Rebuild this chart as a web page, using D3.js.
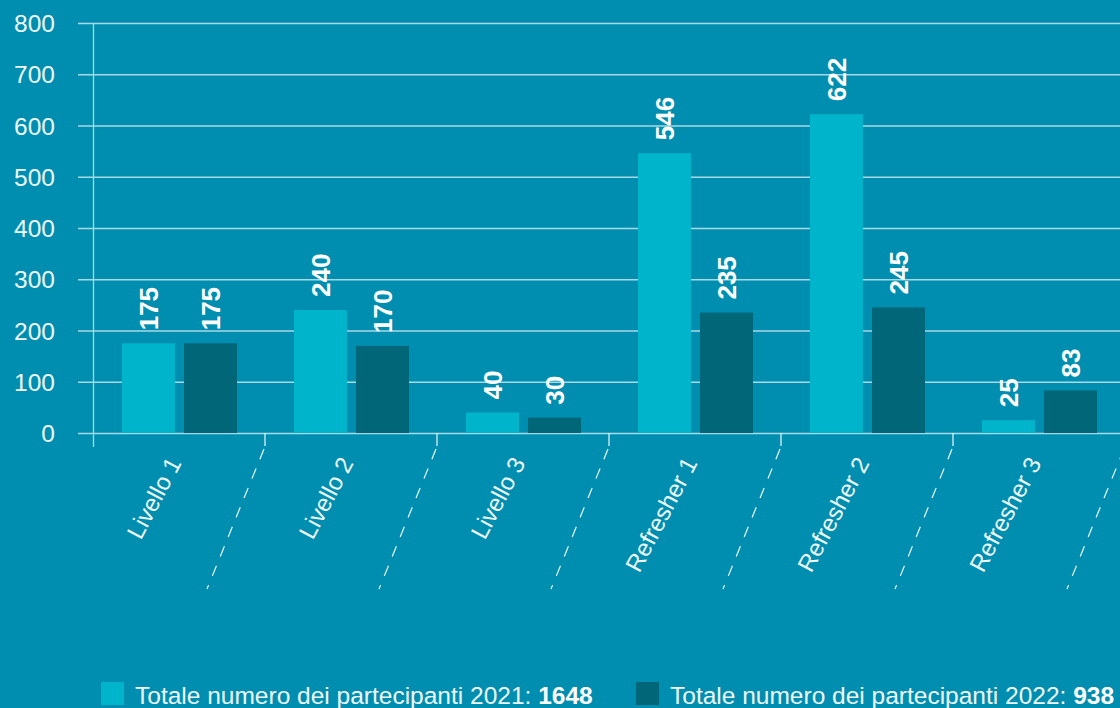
<!DOCTYPE html>
<html>
<head>
<meta charset="utf-8">
<script src="https://cdn.jsdelivr.net/npm/d3@7"></script>
<style>
  html, body { margin: 0; padding: 0; background: #008eb0; }
  svg { display: block; }
  text { font-family: "Liberation Sans", Arial, Helvetica, sans-serif; }
</style>
</head>
<body>
<svg id="chart" width="1120" height="708"></svg>
<script>
const categories = ["Livello 1", "Livello 2", "Livello 3", "Refresher 1", "Refresher 2", "Refresher 3"]
const values2021 = [175, 240, 40, 546, 622, 25]
const values2022 = [175, 170, 30, 235, 245, 83]
const yTicks = [0, 100, 200, 300, 400, 500, 600, 700, 800]
const seriesNames = ["Totale numero dei partecipanti 2021: ", "Totale numero dei partecipanti 2022: "]
const seriesTotals = ["1648", "938"]

const colors = ["#00b4cb", "#026679"]
const gridColor = "#a8d9e4"
const textColor = "#eef8fa"

const width = 1120
const height = 708
const margin = { top: 23, left: 93, bottom: 275 }
const bandW = 172

let svg = d3.select("#chart")

const x = d3
  .scaleBand()
  .domain(categories)
  .range([margin.left, margin.left + bandW * categories.length])

const y = d3
  .scaleLinear()
  .domain([0, 800])
  .range([height - margin.bottom, margin.top])

const barW = 53
const off1 = 29
const off2 = 91

// grid lines
svg
  .append("g")
  .selectAll("line")
  .data(yTicks)
  .join("line")
  .attr("x1", 78)
  .attr("x2", width)
  .attr("y1", (d) => y(d) + 0.5)
  .attr("y2", (d) => y(d) + 0.5)
  .attr("stroke", gridColor)
  .attr("stroke-width", 1.3)

// y tick labels
svg
  .append("g")
  .selectAll("text")
  .data(yTicks)
  .join("text")
  .attr("x", 55)
  .attr("y", (d) => y(d) + 9)
  .attr("text-anchor", "end")
  .attr("fill", textColor)
  .attr("font-size", 24.5)
  .text((d) => d)

// y axis line
svg
  .append("line")
  .attr("x1", margin.left + 0.5)
  .attr("x2", margin.left + 0.5)
  .attr("y1", y(800))
  .attr("y2", y(0) + 14)
  .attr("stroke", gridColor)
  .attr("stroke-width", 1.3)

// bars
let bars = svg.append("g")
bars
  .selectAll(".b2021")
  .data(categories)
  .join("rect")
  .attr("class", "b2021")
  .attr("x", (d) => x(d) + off1)
  .attr("width", barW)
  .attr("y", (d, i) => y(values2021[i]))
  .attr("height", (d, i) => y(0) - y(values2021[i]))
  .attr("fill", colors[0])

bars
  .selectAll(".b2022")
  .data(categories)
  .join("rect")
  .attr("class", "b2022")
  .attr("x", (d) => x(d) + off2)
  .attr("width", barW)
  .attr("y", (d, i) => y(values2022[i]))
  .attr("height", (d, i) => y(0) - y(values2022[i]))
  .attr("fill", colors[1])

// value labels (rotated)
function valueLabels(vals, off) {
  svg
    .append("g")
    .selectAll("text")
    .data(categories)
    .join("text")
    .attr(
      "transform",
      (d, i) => `translate(${x(d) + off + barW / 2 + 9},${y(vals[i]) - 13}) rotate(-90)`
    )
    .attr("text-anchor", "start")
    .attr("fill", "#ffffff")
    .attr("font-size", 26)
    .attr("font-weight", "bold")
    .text((d, i) => vals[i])
}
valueLabels(values2021, off1)
valueLabels(values2022, off2)

// separators: short tick then dashed slanted line
let seps = svg.append("g")
categories.forEach((c) => {
  const sx = x(c) + bandW
  const y0 = y(0)
  seps
    .append("line")
    .attr("x1", sx)
    .attr("x2", sx)
    .attr("y1", y0)
    .attr("y2", y0 + 13)
    .attr("stroke", textColor)
    .attr("stroke-width", 1.2)
  seps
    .append("line")
    .attr("x1", sx - 1)
    .attr("y1", y0 + 16)
    .attr("x2", sx - 58)
    .attr("y2", y0 + 156)
    .attr("stroke", textColor)
    .attr("stroke-width", 1.2)
    .attr("stroke-dasharray", "11,10")
})

// category labels
svg
  .append("g")
  .selectAll("text")
  .data(categories)
  .join("text")
  .attr("transform", (d) => `translate(${x(d) + bandW / 2 + 3},${y(0) + 30}) rotate(-62)`)
  .attr("text-anchor", "end")
  .attr("fill", textColor)
  .attr("font-size", 24)
  .text((d) => d)

// legend
const legendX = [101, 636]
seriesNames.forEach((name, i) => {
  let g = svg.append("g").attr("transform", `translate(${legendX[i]},682)`)
  g.append("rect").attr("width", 23).attr("height", 23).attr("fill", colors[i])
  let t = g
    .append("text")
    .attr("x", 34)
    .attr("y", 22)
    .attr("fill", textColor)
    .attr("font-size", 24.5)
  t.append("tspan").text(name)
  t.append("tspan").attr("font-weight", "bold").attr("fill", "#ffffff").text(seriesTotals[i])
})
</script>
</body>
</html>
